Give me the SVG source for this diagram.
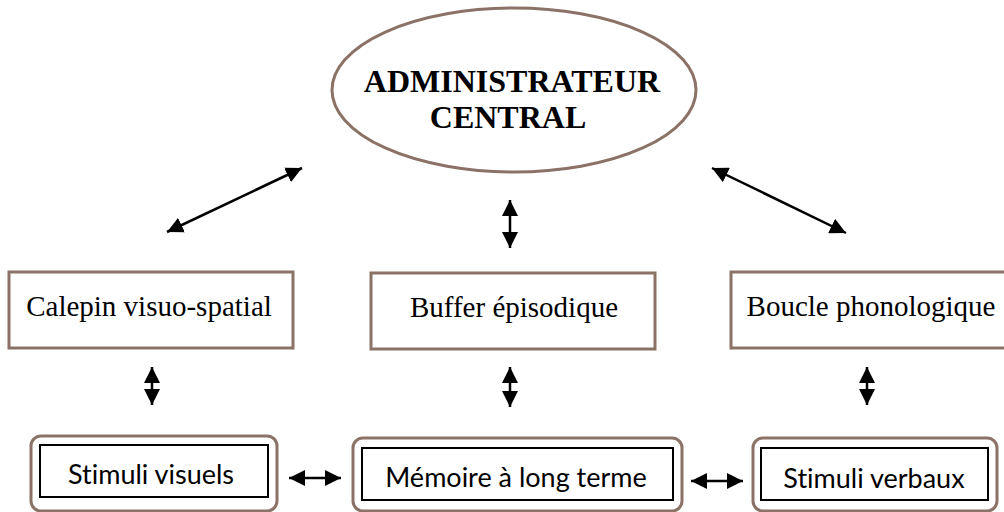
<svg xmlns="http://www.w3.org/2000/svg" width="1004" height="512" viewBox="0 0 1004 512">
<style>
.brown{fill:#fff;stroke:#8a7266;stroke-width:3}
.inner{fill:#fff;stroke:#000;stroke-width:2}
.serif{font-family:"Liberation Serif","Times New Roman",serif;fill:#000}
.sans{font-family:Lato,"Liberation Sans",sans-serif;fill:#000;font-size:27px;font-variant-ligatures:none}
.arr{stroke:#000;stroke-width:2.5;fill:none;marker-start:url(#ah);marker-end:url(#ah)}
</style>
<defs>
<marker id="ah" viewBox="0 0 16 16" refX="16" refY="8" markerWidth="16" markerHeight="16" markerUnits="userSpaceOnUse" orient="auto-start-reverse">
<path d="M0,0 L16,8 L0,16 Z" fill="#000"/>
</marker>
</defs>
<rect width="1004" height="512" fill="#fff"/>
<g id="admin">
<ellipse class="brown" cx="514" cy="90" rx="182" ry="82"/>
<text class="serif" x="512" y="92" font-size="32" font-weight="bold" text-anchor="middle">ADMINISTRATEUR</text>
<text class="serif" x="508" y="128" font-size="32" font-weight="bold" text-anchor="middle">CENTRAL</text>
</g>
<g id="calepin">
<rect class="brown" x="9" y="272" width="284" height="76"/>
<text class="serif" x="149" y="316" font-size="29" text-anchor="middle">Calepin visuo-spatial</text>
</g>
<g id="buffer">
<rect class="brown" x="371" y="273" width="284" height="76"/>
<text class="serif" x="514" y="317" font-size="29" text-anchor="middle">Buffer épisodique</text>
</g>
<g id="boucle">
<rect class="brown" x="731" y="272" width="290" height="76"/>
<text class="serif" x="871" y="316" font-size="29" text-anchor="middle">Boucle phonologique</text>
</g>
<g id="stimuli-visuels">
<rect class="brown" x="31" y="436" width="246" height="75" rx="10"/>
<rect class="inner" x="40" y="445" width="228" height="52"/>
<text class="sans" x="151" y="484" text-anchor="middle">Stimuli visuels</text>
</g>
<g id="memoire">
<rect class="brown" x="353" y="438" width="329" height="73" rx="10"/>
<rect class="inner" x="362" y="448" width="311" height="52"/>
<text class="sans" x="516" y="487" text-anchor="middle">Mémoire à long terme</text>
</g>
<g id="stimuli-verbaux">
<rect class="brown" x="753" y="438" width="244" height="73" rx="10"/>
<rect class="inner" x="761" y="448" width="227" height="52"/>
<text class="sans" x="874" y="488" text-anchor="middle">Stimuli verbaux</text>
</g>
<g id="connectors">
<line class="arr" x1="167" y1="232" x2="302" y2="168"/>
<line class="arr" x1="712" y1="168" x2="846" y2="233"/>
<line class="arr" x1="510" y1="200" x2="510" y2="248"/>
<line class="arr" x1="152" y1="367" x2="152" y2="405"/>
<line class="arr" x1="510" y1="367" x2="510" y2="407"/>
<line class="arr" x1="867" y1="367" x2="867" y2="405"/>
<line class="arr" x1="289" y1="478" x2="341" y2="478"/>
<line class="arr" x1="691" y1="481" x2="743" y2="481"/>
</g>
</svg>
